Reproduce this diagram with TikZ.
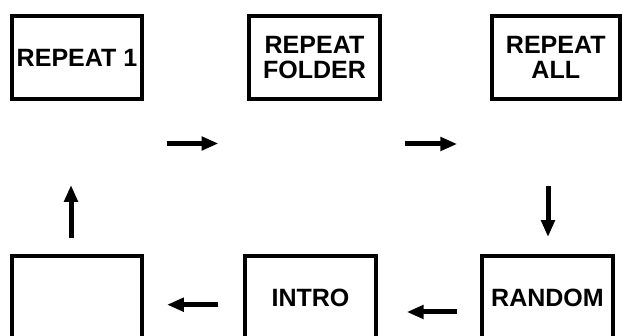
\documentclass[tikz,border=0pt]{standalone}
\usepackage{fontspec}
\setmainfont{Liberation Sans}
\usetikzlibrary{arrows.meta}
\begin{document}
\begin{tikzpicture}[
        modebox/.style={draw, line width=0.1cm, minimum width=3.25cm, minimum height=2.075cm, inner sep=0pt, align=center, font=\bfseries\fontsize{17.8}{18.3}\selectfont},
        flow/.style={line width=0.125cm, -{Triangle[length=0.42cm, width=0.33cm]}}
    ]
            \useasboundingbox (0, 0) rectangle (15.55, 8.4);
            \node[modebox] (rep1) at (1.925, 6.9625) {REPEAT 1};
            \node[modebox, minimum width=3.275cm] (folder) at (7.8625, 6.9625) {REPEAT\\FOLDER};
            \node[modebox, minimum width=3.19cm] (all) at (13.894, 6.9625) {REPEAT\\ALL};
            \node[modebox] (blank) at (1.925, 0.9625) {};
            \node[modebox, minimum width=3.275cm] (intro) at (7.7625, 0.9625) {INTRO};
            \node[modebox, minimum width=3.275cm] (random) at (13.6875, 0.9625) {RANDOM};
            % arrow ends
            \coordinate (a1) at (4.17, 4.8125);
            \coordinate (b1) at (5.46, 4.8125);
            \coordinate (a2) at (10.13, 4.8);
            \coordinate (b2) at (11.43, 4.8);
            \coordinate (a3) at (13.7, 3.75);
            \coordinate (b3) at (13.7, 2.475);
            \coordinate (a4) at (11.43, 0.6);
            \coordinate (b4) at (10.17, 0.6);
            \coordinate (a5) at (5.45, 0.7825);
            \coordinate (b5) at (4.175, 0.7825);
            \coordinate (a6) at (1.775, 2.45);
            \coordinate (b6) at (1.775, 3.775);
            \draw[flow] (a1) -- (b1);
            \draw[flow] (a2) -- (b2);
            \draw[flow] (a3) -- (b3);
            \draw[flow] (a4) -- (b4);
            \draw[flow] (a5) -- (b5);
            \draw[flow] (a6) -- (b6);
        \end{tikzpicture}
\end{document}
